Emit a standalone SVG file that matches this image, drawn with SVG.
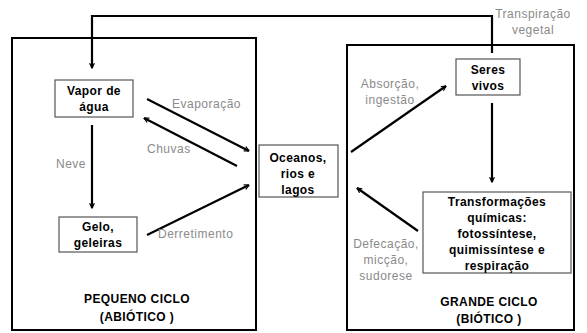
<svg xmlns="http://www.w3.org/2000/svg" width="587" height="333" viewBox="0 0 587 333">
<defs>
<marker id="ah" viewBox="0 0 10 10" refX="9" refY="5" markerWidth="6" markerHeight="6" orient="auto" markerUnits="userSpaceOnUse">
<path d="M1,1 L9,5 L1,9" fill="none" stroke="#000" stroke-width="2"/>
</marker>
<style>
.frame{fill:none;stroke:#000;stroke-width:2}
.box{fill:#fff;stroke:#555;stroke-width:1.2}
.b{font-family:"Liberation Sans",Arial,sans-serif;font-weight:bold;font-size:12px;fill:#000;text-anchor:middle;letter-spacing:0.4px}
.g{font-family:"Liberation Sans",Arial,sans-serif;font-size:12px;fill:#8a8a8a;letter-spacing:0.5px}
.c{fill:none;stroke:#000;stroke-width:2.2}
</style>
</defs>
<rect width="587" height="333" fill="#fff"/>
<g id="pequeno-ciclo">
<rect class="frame" x="12" y="38" width="244" height="292"/>
<text class="b" x="137" y="303">PEQUENO CICLO</text>
<text class="b" x="137" y="321">(ABIÓTICO )</text>
</g>
<g id="grande-ciclo">
<rect class="frame" x="347" y="45" width="227" height="285"/>
<text class="b" x="489" y="306">GRANDE CICLO</text>
<text class="b" x="489" y="323">(BIÓTICO )</text>
</g>
<g id="connectors">
<path class="c" d="M492,53 V16 H92 V68" marker-end="url(#ah)"/>
<line class="c" x1="92" y1="125" x2="92" y2="208" marker-end="url(#ah)"/>
<line class="c" x1="147" y1="99" x2="249" y2="151" marker-end="url(#ah)"/>
<line class="c" x1="237" y1="166" x2="144" y2="118" marker-end="url(#ah)"/>
<line class="c" x1="147" y1="235" x2="249" y2="185" marker-end="url(#ah)"/>
<line class="c" x1="351" y1="152" x2="446" y2="86" marker-end="url(#ah)"/>
<line class="c" x1="492" y1="103" x2="492" y2="182" marker-end="url(#ah)"/>
<line class="c" x1="418" y1="231" x2="357" y2="188" marker-end="url(#ah)"/>
<text class="g" x="533" y="18" text-anchor="middle">Transpiração</text>
<text class="g" x="533" y="34" text-anchor="middle">vegetal</text>
<text class="g" x="172" y="108">Evaporação</text>
<text class="g" x="147" y="153">Chuvas</text>
<text class="g" x="86" y="168" text-anchor="end">Neve</text>
<text class="g" x="158" y="238">Derretimento</text>
<text class="g" x="390" y="88" text-anchor="middle">Absorção,</text>
<text class="g" x="390" y="104" text-anchor="middle">ingestão</text>
<text class="g" x="386" y="248" text-anchor="middle">Defecação,</text>
<text class="g" x="386" y="264" text-anchor="middle">micção,</text>
<text class="g" x="386" y="280" text-anchor="middle">sudorese</text>
</g>
<g id="vapor">
<rect class="box" x="55" y="80" width="78" height="37"/>
<text class="b" x="94" y="95">Vapor de</text>
<text class="b" x="94" y="111">água</text>
</g>
<g id="gelo">
<rect class="box" x="59" y="217" width="78" height="35"/>
<text class="b" x="98" y="231">Gelo,</text>
<text class="b" x="98" y="247">geleiras</text>
</g>
<g id="oceanos">
<rect class="box" x="259" y="145" width="79" height="52"/>
<text class="b" x="298" y="162">Oceanos,</text>
<text class="b" x="298" y="178">rios e</text>
<text class="b" x="298" y="194">lagos</text>
</g>
<g id="seres">
<rect class="box" x="456" y="59" width="64" height="36"/>
<text class="b" x="488" y="74">Seres</text>
<text class="b" x="488" y="90">vivos</text>
</g>
<g id="transformacoes">
<rect class="box" x="423" y="192" width="148" height="81"/>
<text class="b" x="497" y="206">Transformações</text>
<text class="b" x="497" y="222">químicas:</text>
<text class="b" x="497" y="238">fotossíntese,</text>
<text class="b" x="497" y="254">quimissíntese e</text>
<text class="b" x="497" y="270">respiração</text>
</g>
</svg>
